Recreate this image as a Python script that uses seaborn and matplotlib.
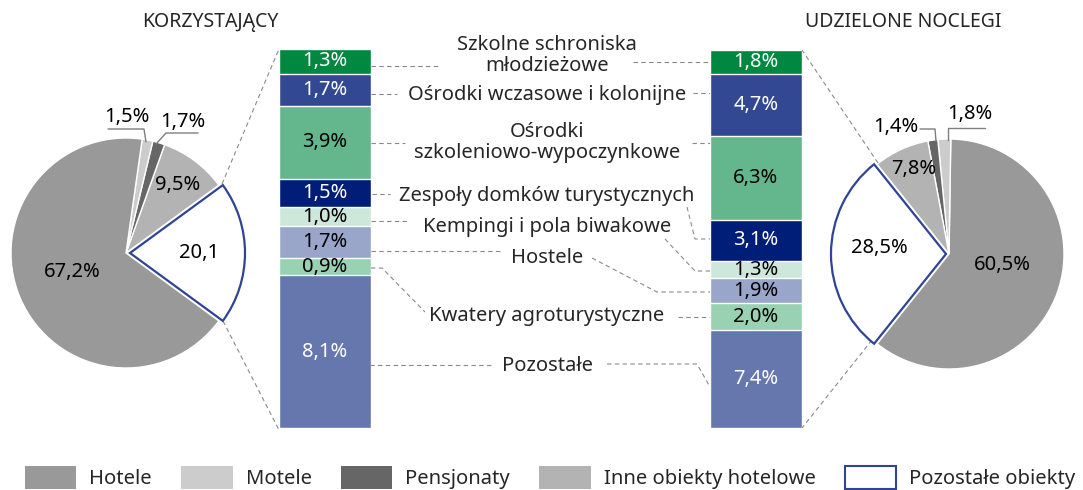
import numpy as np
import matplotlib
matplotlib.use("Agg")
import matplotlib.pyplot as plt
import matplotlib.colors as mcolors
import seaborn as sns
from matplotlib.patches import Patch

# ---------------- data ----------------
titles = ["KORZYSTAJĄCY", "UDZIELONE NOCLEGI"]
pie_categories = ["Hotele", "Motele", "Pensjonaty", "Inne obiekty hotelowe", "Pozostałe obiekty"]
korzystajacy_pie = [67.2, 1.5, 1.7, 9.5, 20.1]
noclegi_pie = [60.5, 1.8, 1.4, 7.8, 28.5]

bar_categories = ["Szkolne schroniska\nmłodzieżowe", "Ośrodki wczasowe i kolonijne",
                  "Ośrodki\nszkoleniowo-wypoczynkowe", "Zespoły domków turystycznych",
                  "Kempingi i pola biwakowe", "Hostele", "Kwatery agroturystyczne", "Pozostałe"]
korzystajacy_bar = [1.3, 1.7, 3.9, 1.5, 1.0, 1.7, 0.9, 8.1]
noclegi_bar = [1.8, 4.7, 6.3, 3.1, 1.3, 1.9, 2.0, 7.4]

# ---------------- style ----------------
pie_colors = ["#999999", "#cccccc", "#666666", "#b3b3b3", "white"]
blue_edge = "#2f4594"
bar_colors = ["#008840", "#334893", "#64b78c", "#001d77", "#cde8da", "#99a6ca", "#99d1b3", "#6577ad"]
line_col = "#8a8a8a"
FS = 14.5

sns.set_theme(style="white")
plt.rcParams["font.family"] = ["Noto Sans", "DejaVu Sans"]

W, H = 1083, 490
fig = plt.figure(figsize=(W / 100, H / 100), dpi=100)
ax = fig.add_axes([0, 0, 1, 1])


def Y(y):
    return H - y


def fmt(v, pct=True):
    s = f"{v:.1f}".replace(".", ",")
    return s + "%" if pct else s


# ---------------- pies ----------------
# left pie: counterclockwise from Pozostałe, centered on 0 deg
order_l = [4, 3, 2, 1, 0]
start_l = -3.6 * korzystajacy_pie[4] / 2
wl, _ = ax.pie([korzystajacy_pie[i] for i in order_l], colors=[pie_colors[i] for i in order_l],
               startangle=start_l, counterclock=True, radius=115, center=(126, Y(253)),
               explode=[4, 0, 0, 0, 0], wedgeprops=dict(linewidth=1, edgecolor="white"))
wl[0].set_edgecolor(blue_edge); wl[0].set_linewidth(1.6); wl[0].set_zorder(5)

# right pie: Pozostałe centered on 180 deg
order_r = [0, 1, 2, 3, 4]
start_r = 180 - 3.6 * (sum(noclegi_pie[:4]) + noclegi_pie[4] / 2)
wr, _ = ax.pie([noclegi_pie[i] for i in order_r], colors=[pie_colors[i] for i in order_r],
               startangle=start_r, counterclock=True, radius=115, center=(949, Y(254)),
               explode=[0, 0, 0, 0, 3], wedgeprops=dict(linewidth=1, edgecolor="white"))
wr[4].set_edgecolor(blue_edge); wr[4].set_linewidth(1.6); wr[4].set_zorder(5)

ax.set_xlim(0, W)
ax.set_ylim(0, H)
ax.set_aspect("auto")
ax.axis("off")

# pie labels
left_label_pos = [(72, 272), (127, 117), (183, 122), (178, 185), (199, 253)]
for i, (x, y) in enumerate(left_label_pos):
    ax.text(x, Y(y), fmt(korzystajacy_pie[i], pct=(i != 4)), ha="center", va="center",
            fontsize=FS, color="black", zorder=6)
right_label_pos = [(1002, 265), (970, 114), (896, 127), (914, 169), (879, 248)]
for i, (x, y) in enumerate(right_label_pos):
    ax.text(x, Y(y), fmt(noclegi_pie[i]), ha="center", va="center",
            fontsize=FS, color="black", zorder=6)

# pie small-slice leaders
for pts in [[(108, 129), (144, 129), (146, 142)], [(198, 133), (166, 133), (156, 144)],
            [(920, 129), (935, 129), (936, 141)], [(985, 128), (948, 128), (948, 140)]]:
    xs, ys = zip(*pts)
    ax.plot(xs, [Y(v) for v in ys], color="#7f7f7f", lw=1, zorder=4)

# titles
ax.text(210, Y(22), titles[0], ha="center", va="center", fontsize=FS - 0.5)
ax.text(903, Y(22), titles[1], ha="center", va="center", fontsize=FS - 0.5)

# connectors pie -> bars
for pts in [[(222, 184), (279, 49)], [(223, 321), (279, 430)],
            [(878, 163), (802, 50)], [(872, 340), (802, 428)]]:
    xs, ys = zip(*pts)
    ax.plot(xs, [Y(v) for v in ys], color=line_col, lw=0.8, ls=(0, (4, 3)))

# middle labels
label_y = [55.5, 95, 142.5, 196, 227, 258, 316, 366]
for lab, y in zip(bar_categories, label_y):
    ax.text(547, Y(y), lab, ha="center", va="center", fontsize=FS, linespacing=1.05,
            multialignment="center")

# middle leaders
leaders = [
    [(371, 66), (438, 66)], [(633, 62), (710, 62)],
    [(371, 94), (397, 94)], [(693, 93), (710, 93)],
    [(371, 143), (405, 143)], [(692, 143), (710, 143)],
    [(372, 194), (390, 194)], [(687, 207), (695, 239), (710, 239)],
    [(371, 221), (410, 221)], [(665, 239), (695, 271), (710, 271)],
    [(371, 251), (500, 251)], [(592, 258), (657, 292), (710, 292)],
    [(371, 268), (382, 268), (425, 312)], [(678, 317), (710, 317)],
    [(362, 365), (493, 365)], [(607, 364), (697, 364), (710, 387)],
]
for pts in leaders:
    xs, ys = zip(*pts)
    ax.plot(xs, [Y(v) for v in ys], color=line_col, lw=0.8, ls=(0, (4, 3)), zorder=1)


# ---------------- stacked bars ----------------
def stacked_bar(rect, vals):
    axb = fig.add_axes(rect)
    cum = np.cumsum(vals)
    for i in reversed(range(len(vals))):
        sns.barplot(x=["s"], y=[cum[i]], color=bar_colors[i], saturation=1, width=1,
                    edgecolor="white", linewidth=1, errorbar=None, ax=axb)
    for i, v in enumerate(vals):
        r, g, b = mcolors.to_rgb(bar_colors[i])
        lum = 0.299 * r + 0.587 * g + 0.114 * b
        axb.text(0, cum[i] - v / 2, fmt(v), ha="center", va="center", fontsize=FS,
                 color="white" if lum < 0.5 else "black")
    axb.set_xlim(-0.5, 0.5)
    axb.set_ylim(cum[-1], 0)
    axb.axis("off")
    return axb


stacked_bar([279 / W, (H - 428) / H, 92 / W, 379 / H], korzystajacy_bar)
stacked_bar([710 / W, (H - 428) / H, 92 / W, 378 / H], noclegi_bar)

# ---------------- legend ----------------
handles = [Patch(facecolor=c, edgecolor="none") for c in pie_colors[:4]]
handles.append(Patch(facecolor="white", edgecolor=blue_edge, linewidth=1.5))
fig.legend(handles, pie_categories, ncol=5, loc="lower left", bbox_to_anchor=(25 / W, 1.0 / H),
           frameon=False, fontsize=FS, handlelength=2.55, handleheight=1.4, handletextpad=0.65,
           columnspacing=1.45, borderpad=0, borderaxespad=0)

fig.savefig("out.png", dpi=100)
